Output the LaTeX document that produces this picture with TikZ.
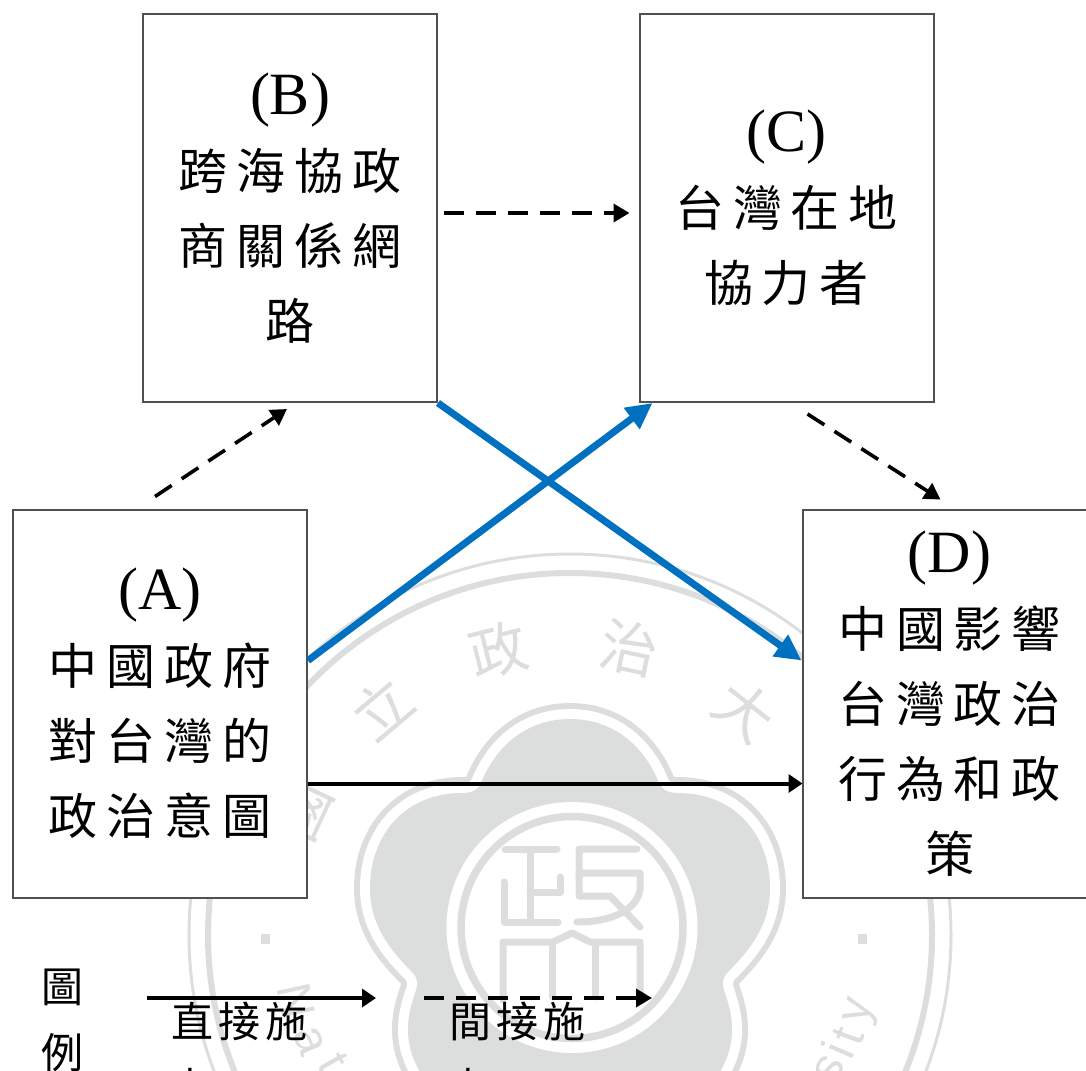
\documentclass[tikz,border=0pt]{standalone}
\usepackage{fontspec}
\usetikzlibrary{arrows.meta,calc}
\setmainfont{Liberation Serif}
\newfontfamily\cjkbox[LetterSpace=18]{Noto Sans CJK TC}
\newfontfamily\cjkleg[LetterSpace=12]{Noto Sans CJK TC}
\newfontfamily\cjkplain{Noto Sans CJK TC}
\newfontfamily\latwm{Liberation Sans}
\newfontfamily\latser{Liberation Serif}
\newcommand{\hdr}[1]{{\fontsize{60}{72}\selectfont\latser #1}}
\definecolor{wmgray}{HTML}{DCDDDD}
\definecolor{boxline}{HTML}{505050}
\definecolor{bluearrow}{HTML}{0070C0}
\tikzset{
  diagbox/.style={draw=boxline,line width=2pt,fill=white,minimum width=294pt,minimum height=388pt,inner sep=0pt,align=center,font={\fontsize{49}{75}\selectfont\cjkbox}},
  solidarrow/.style={draw=black,line width=4pt,-{Triangle[length=14pt,width=18pt]}},
  dasharrow/.style={draw=black,line width=3.6pt,dash pattern=on 20pt off 12pt,-{Triangle[length=16pt,width=18pt]}},
  bluelink/.style={draw=bluearrow,line width=7pt,-{Triangle[length=26pt,width=25pt]}},
  legtext/.style={anchor=north west,inner sep=0pt,align=left,font={\fontsize{42}{66}\selectfont\cjkleg}},
  wmcjk/.style={text=wmgray,inner sep=0pt,font={\fontsize{58}{58}\selectfont\cjkplain}},
  wmlat/.style={text=wmgray,inner sep=0pt,font={\fontsize{48}{48}\selectfont\latwm}},
  wmstroke/.style={draw=wmgray,line width=7pt,line cap=round,line join=round},
}
\newcommand{\flowerpath}{(570,719)
  .. controls (525,719) and (495,748) .. (481,783)
  .. controls (478,790) and (472,793) .. (462,793)
  .. controls (405,793) and (370,835) .. (370,888)
  .. controls (370,925) and (390,950) .. (412,972)
  .. controls (418,978) and (418,984) .. (416,990)
  .. controls (411,1005) and (408,1015) .. (408,1030)
  .. controls (408,1070) and (440,1110) .. (500,1130)
  -- (570,1150) -- (640,1130)
  .. controls (700,1110) and (732,1070) .. (732,1030)
  .. controls (732,1015) and (729,1005) .. (724,990)
  .. controls (722,984) and (722,978) .. (728,972)
  .. controls (750,950) and (770,925) .. (770,888)
  .. controls (770,835) and (735,793) .. (678,793)
  .. controls (668,793) and (662,790) .. (659,783)
  .. controls (645,748) and (615,719) .. (570,719) -- cycle}
\begin{document}
\begin{tikzpicture}[x=1pt,y=-1pt]
\clip (0,0) rectangle (1086,1070);
\useasboundingbox (0,0) rectangle (1086,1070);
% --- watermark ---
\draw[wmgray,line width=3pt] (570,935) circle[radius=381pt];
\draw[wmgray,line width=6pt] (570,935) circle[radius=362pt];
\draw[wmgray,line width=32pt,line join=round] \flowerpath;
\draw[white,line width=20pt,line join=round] \flowerpath;
\fill[wmgray] \flowerpath;
\fill[white] (572,927.5) circle[radius=125.5pt];
\draw[wmgray,line width=7.5pt] (572,927.5) circle[radius=111pt];
\draw[wmstroke] (505,849) -- (557,849);
\draw[wmstroke] (530,849) -- (530,922);
\draw[wmstroke] (504,882) -- (504,922) -- (558,922);
\draw[wmstroke] (530,892) -- (560,892) -- (560,877);
\draw[wmstroke] (637,849) -- (579,849) -- (579,896) -- (610,896) -- (640,927);
\draw[wmstroke] (579,873) -- (640,873) -- (640,890) .. controls (637,908) and (615,922) .. (577,922);
\draw[wmstroke] (503,1000) -- (503,942) -- (553,942) -- (572,933) -- (590,942) -- (640,942) -- (640,992) -- (643,1000);
\draw[wmstroke] (552,942) -- (552,997);
\draw[wmstroke] (595,942) -- (595,997);
\node[wmcjk,rotate=65] (wmguo) at (303,810) {國};
\node[wmcjk,rotate=40] (wmli) at (382,708) {立};
\node[wmcjk,rotate=14] (wmzheng) at (498,650) {政};
\node[wmcjk,rotate=-12] (wmzhi) at (629,648) {治};
\node[wmcjk,rotate=-38] (wmda) at (745,711) {大};
\fill[wmgray] (261,934) rectangle (270,944);
\fill[wmgray] (858,934) rectangle (867,944);
\node[wmlat,rotate=-78] (wmN) at (296,1001) {N};
\node[wmlat,rotate=-68] (wma) at (309,1041) {a};
\node[wmlat,rotate=-61] (wmt) at (333,1063) {t};
\node[wmlat,rotate=63] (wms) at (830,1069) {s};
\node[wmlat,rotate=67] (wmi) at (838,1050) {i};
\node[wmlat,rotate=70] (wmtt) at (848,1036) {t};
\node[wmlat,rotate=75] (wmy) at (862,1012) {y};
% --- boxes ---
\node[diagbox] (nB) at (290,208) {\hdr{(B)}\\跨海協政\\商關係網\\路};
\node[diagbox] (nC) at (786.5,208) {\hdr{(C)}\\台灣在地\\協力者};
\node[diagbox] (nA) at (160,703.5) {\hdr{(A)}\\中國政府\\對台灣的\\政治意圖};
\node[diagbox] (nD) at (949.5,703.5) {\hdr{(D)}\\中國影響\\台灣政治\\行為和政\\策};
% --- connectors ---
\draw[dasharrow] ([xshift=-5pt,yshift=12pt]nA.north) -- ([xshift=-3pt,yshift=-6pt]nB.south);
\draw[dasharrow] ([xshift=6pt,yshift=-5pt]nB.east) -- ([xshift=-9pt,yshift=-5pt]nC.west);
\draw[dasharrow] ([xshift=21pt,yshift=-11pt]nC.south) -- ([xshift=-9pt,yshift=9pt]nD.north);
\draw[bluelink] ([yshift=43pt]nA.east) -- ([xshift=-134pt]nC.south);
\draw[bluelink] (nB.south east) -- ([yshift=43pt]nD.west);
\draw[solidarrow] ([yshift=-80pt]nA.east) -- ([xshift=1pt,yshift=-80pt]nD.west);
% --- legend ---
\coordinate (legSa) at (147,998);
\coordinate (legSb) at (376,998);
\coordinate (legDa) at (424,998);
\coordinate (legDb) at (652,998);
\draw[solidarrow] (legSa) -- (legSb);
\draw[dasharrow] (legDa) -- (legDb);
\node[legtext] (legT) at (41,969) {圖\\例};
\node[legtext] (legA) at (171,1002) {直接施\\力};
\node[legtext] (legB) at (449,1002) {間接施\\力};
\end{tikzpicture}
\end{document}
